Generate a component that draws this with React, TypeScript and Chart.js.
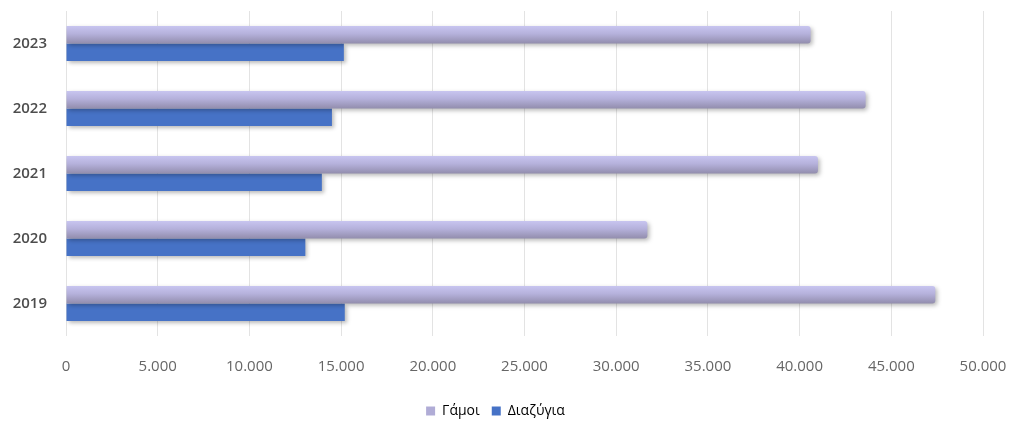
import React, { useEffect, useRef } from "react";
import { Chart, registerables } from "chart.js";

Chart.register(...registerables);

const categories = ["2023", "2022", "2021", "2020", "2019"];
const marriages = [40600, 43600, 41000, 31700, 47400];
const divorces = [15150, 14500, 13950, 13050, 15200];
const seriesNames = ["Γάμοι", "Διαζύγια"];
const xTicks = [0, 5000, 10000, 15000, 20000, 25000, 30000, 35000, 40000, 45000, 50000];

const fmt = (v: number) => v.toLocaleString("de-DE");

const shadowPlugin = {
  id: "barShadow",
  beforeDatasetsDraw(chart: any) {
    const c = chart.ctx;
    c.save();
    c.shadowColor = "rgba(0,0,0,0.28)";
    c.shadowBlur = 4;
    c.shadowOffsetX = 2;
    c.shadowOffsetY = 2;
  },
  afterDatasetsDraw(chart: any) {
    chart.ctx.restore();
  },
};

export default function App() {
  const ref = useRef<HTMLCanvasElement>(null);
  useEffect(() => {
    if (!ref.current) return;
    const catPct = 0.54;
    const gamoiFill = (ctx: any) => {
      const chart = ctx.chart;
      const area = chart.chartArea;
      const ys = chart.scales?.y;
      if (!area || !ys) return "#b4b1dd";
      const center = ys.getPixelForValue(ctx.dataIndex);
      const band = (area.bottom - area.top) / categories.length;
      const h = (band * catPct) / 2;
      const g = chart.ctx.createLinearGradient(0, center - h, 0, center);
      g.addColorStop(0, "#c8c5f0");
      g.addColorStop(0.45, "#b5b1db");
      g.addColorStop(1, "#928dad");
      return g;
    };
    const chart = new Chart(ref.current, {
      type: "bar",
      data: {
        labels: categories,
        datasets: [
          {
            label: seriesNames[0],
            data: marriages,
            backgroundColor: gamoiFill,
            borderRadius: { topRight: 3, bottomRight: 3, topLeft: 0, bottomLeft: 0 },
            borderSkipped: "start",
            barPercentage: 1,
            categoryPercentage: catPct,
          },
          {
            label: seriesNames[1],
            data: divorces,
            backgroundColor: "#4672c6",
            barPercentage: 1,
            categoryPercentage: catPct,
          },
        ],
      },
      options: {
        indexAxis: "y",
        animation: false,
        responsive: true,
        maintainAspectRatio: false,
        layout: { padding: { top: 11, right: 27, left: 8, bottom: -3 } },
        scales: {
          x: {
            min: 0,
            max: 50000,
            afterBuildTicks: (s: any) => {
              s.ticks = xTicks.map((v) => ({ value: v }));
            },
            afterFit: (s: any) => {
              s.height = 56;
              s.paddingLeft = 0;
              s.paddingRight = 0;
            },
            border: { display: false },
            grid: { color: "#e3e3e3", drawTicks: false, lineWidth: 1 },
            ticks: {
              padding: 22,
              color: "#666666",
              font: { family: "Open Sans", size: 15 },
              callback: (v: any) => fmt(Number(v)),
            },
          },
          y: {
            afterFit: (s: any) => {
              s.width = 58;
              s.paddingTop = 0;
              s.paddingBottom = 0;
            },
            border: { display: false },
            grid: { display: false, drawTicks: false },
            ticks: {
              padding: 19,
              color: "#4d4d4d",
              font: { family: "Open Sans", size: 15, weight: "600" },
            },
          },
        },
        plugins: {
          legend: {
            position: "bottom",
            labels: {
              boxWidth: 9,
              boxHeight: 9,
              padding: 12,
              color: "#555555",
              font: { family: "Open Sans", size: 14 },
              generateLabels: () => [
                { text: seriesNames[0], fillStyle: "#b0acd6", strokeStyle: "#b0acd6", lineWidth: 0, datasetIndex: 0 } as any,
                { text: seriesNames[1], fillStyle: "#4672c6", strokeStyle: "#4672c6", lineWidth: 0, datasetIndex: 1 } as any,
              ],
            },
          },
          tooltip: { enabled: false },
        },
      },
      plugins: [shadowPlugin],
    });
    return () => chart.destroy();
  }, []);
  return (
    <div style={{ position: "fixed", left: 0, top: 0, width: 1010, height: 425, background: "#fff" }}>
      <canvas ref={ref} />
    </div>
  );
}
